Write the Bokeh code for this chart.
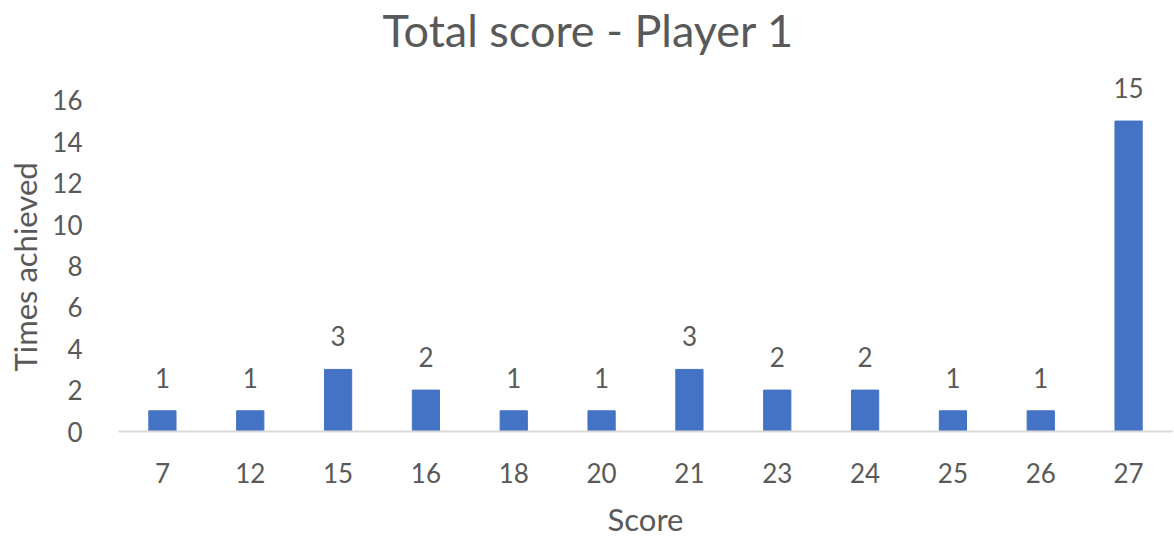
from bokeh.plotting import figure
from bokeh.models import ColumnDataSource, Range1d, FactorRange, FixedTicker, Title
from bokeh.embed import file_html
from bokeh.resources import INLINE
from bokeh.core.properties import value

# Score frequencies for player 1
scores = ["7", "12", "15", "16", "18", "20", "21", "23", "24", "25", "26", "27"]
times_achieved = [1, 1, 3, 2, 1, 1, 3, 2, 2, 1, 1, 15]
y_ticks = [0, 2, 4, 6, 8, 10, 12, 14, 16]

FONT = "Lato"
TEXT_COLOR = "#595959"
BAR_COLOR = "#4472C4"

src = ColumnDataSource(dict(score=scores, times=times_achieved,
                            label=[str(v) for v in times_achieved]))

# Headroom above the top tick so the tallest bar's label fits in the frame
p = figure(width=1174, height=540, output_backend="svg", toolbar_location=None,
           x_range=FactorRange(*scores, range_padding=0),
           y_range=Range1d(0, 18.12),
           min_border_left=118, min_border_right=2, min_border_top=55,
           min_border_bottom=109)

p.title.text = "Total score - Player 1"
p.title.text_font = FONT
p.title.text_font_size = "45px"
p.title.text_font_style = "normal"
p.title.text_color = TEXT_COLOR
p.title.align = "left"
p.title.offset = 264
p.title.standoff = 0

p.vbar(x="score", top="times", width=0.31, color=BAR_COLOR, source=src)
p.text(x="score", y="times", text="label", source=src,
       text_align="center", text_baseline="alphabetic", y_offset=-33,
       text_font=value(FONT), text_font_size="26px", text_color=TEXT_COLOR)

p.outline_line_color = None
p.grid.grid_line_color = None
p.background_fill_color = "white"
p.border_fill_color = "white"

xa = p.xaxis[0]
xa.axis_label = "Score"
xa.axis_line_color = "#D9D9D9"
xa.axis_line_width = 2
xa.major_tick_line_color = None
xa.minor_tick_line_color = None
xa.major_label_standoff = 25
xa.major_label_text_font = FONT
xa.major_label_text_font_size = "26px"
xa.major_label_text_color = TEXT_COLOR
xa.axis_label_text_font = FONT
xa.axis_label_text_font_size = "31px"
xa.axis_label_text_font_style = "normal"
xa.axis_label_text_color = TEXT_COLOR
xa.axis_label_standoff = 14

ya = p.yaxis[0]
ya.ticker = FixedTicker(ticks=y_ticks)
ya.axis_line_color = None
ya.major_tick_line_color = None
ya.minor_tick_line_color = None
ya.major_label_standoff = 30
ya.major_label_text_font = FONT
ya.major_label_text_font_size = "26px"
ya.major_label_text_color = TEXT_COLOR

# Vertical axis title, centred on the 0-16 tick span rather than the whole frame
p.add_layout(Title(text="Times achieved", align="left", offset=60,
                   vertical_align="top", standoff=7,
                   text_font=FONT, text_font_size="31px",
                   text_font_style="normal", text_color=TEXT_COLOR), "left")

open("out.html", "w").write(file_html(p, INLINE))
